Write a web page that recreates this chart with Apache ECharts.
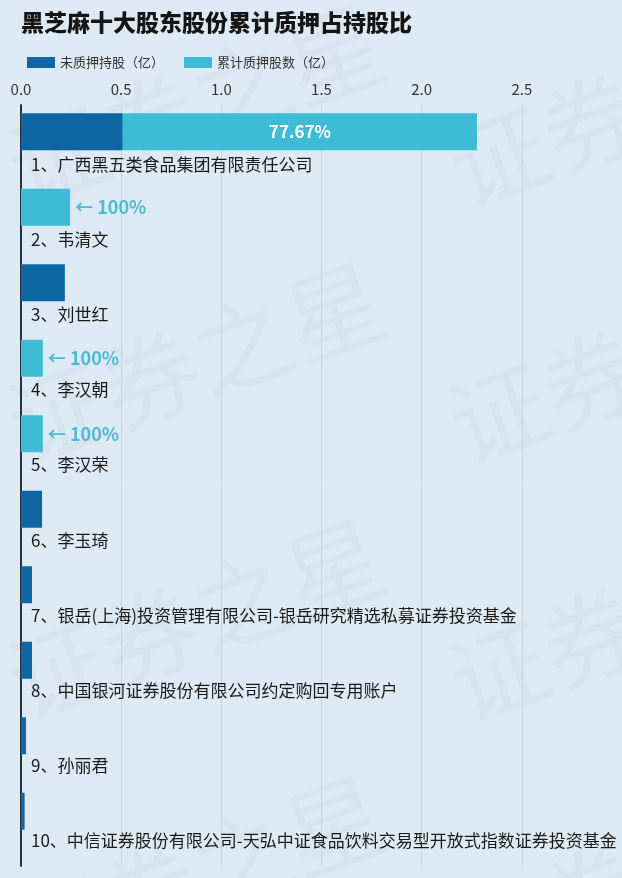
<!DOCTYPE html>
<html>
<head>
<meta charset="utf-8">
<script src="https://cdn.jsdelivr.net/npm/echarts@6/dist/echarts.min.js"></script>
<style>
html,body{margin:0;padding:0;background:#deeaf3;}
#chart{width:622px;height:878px;}
</style>
</head>
<body>
<div id="chart"></div>
<script>
var titleText = '黑芝麻十大股东股份累计质押占持股比';
var legendNames = ['未质押持股（亿）', '累计质押股数（亿）'];
var categories = [
  '1、广西黑五类食品集团有限责任公司',
  '2、韦清文',
  '3、刘世红',
  '4、李汉朝',
  '5、李汉荣',
  '6、李玉琦',
  '7、银岳(上海)投资管理有限公司-银岳研究精选私募证券投资基金',
  '8、中国银河证券股份有限公司约定购回专用账户',
  '9、孙丽君',
  '10、中信证券股份有限公司-天弘中证食品饮料交易型开放式指数证券投资基金'
];
var unpledged = [0.508, 0, 0.219, 0, 0, 0.105, 0.055, 0.055, 0.025, 0.018];
var pledged   = [1.768, 0.245, 0, 0.109, 0.109, 0, 0, 0, 0, 0];
var pledgeRatio = [77.67, 100, 0, 100, 100, 0, 0, 0, 0, 0];
var xTicks = [0, 0.5, 1.0, 1.5, 2.0, 2.5];

var FONT = '"Noto Sans CJK SC", "Noto Sans", sans-serif';
var DARK = '#0e67a3';
var LIGHT = '#3ebcd5';

var pledgedData = pledged.map(function (v, i) {
  var r = pledgeRatio[i];
  var item = { value: v };
  if (r >= 100) {
    item.label = {
      show: true, position: 'right', distance: 5,
      formatter: '← ' + r + '%',
      color: '#4dbad5', fontSize: 18, fontWeight: 'bold', fontFamily: FONT
    };
  } else if (r > 0) {
    item.label = {
      show: true, position: 'inside',
      formatter: r.toFixed(2) + '%',
      color: '#ffffff', fontSize: 17, fontWeight: 'bold', fontFamily: FONT
    };
  } else {
    item.label = { show: false };
  }
  return item;
});

var wm = [];
var wmCenters = [[196, 105], [196, 362], [196, 619], [196, 876], [637, 106], [637, 363], [637, 621], [637, 878]];
wmCenters.forEach(function (c) {
  wm.push({
    type: 'text', x: c[0], y: c[1], rotation: 20 * Math.PI / 180, z: -10, silent: true,
    style: { text: '证券之星', fontSize: 98, fontFamily: FONT, fill: 'rgba(120,140,160,0.065)', textAlign: 'center', textVerticalAlign: 'middle' }
  });
});

var chart = echarts.init(document.getElementById('chart'), null, { renderer: 'canvas' });
chart.setOption({
  backgroundColor: '#deeaf3',
  animation: false,
  textStyle: { fontFamily: FONT },
  graphic: wm,
  title: {
    text: titleText, left: 16, top: 6,
    textStyle: { fontSize: 23, fontWeight: 900, color: '#151515', fontFamily: FONT }
  },
  legend: {
    data: legendNames, left: 22, top: 51, itemWidth: 28, itemHeight: 11, itemGap: 20,
    icon: 'rect',
    textStyle: { fontSize: 13, color: '#333', fontFamily: FONT }
  },
  grid: [
    { left: 21, right: -2, top: 94, height: 755 },
    { left: 21, right: -2, top: 105, bottom: 12 },
    { left: 21, right: -2, top: 127, height: 755 }
  ],
  xAxis: [
    { gridIndex: 0, type: 'value', min: 0, max: 3, interval: 0.5, show: false },
    {
      gridIndex: 1, type: 'value', position: 'top', min: 0, max: 3, interval: 0.5,
      axisLine: { show: false }, axisTick: { show: false },
      splitLine: { show: true, lineStyle: { color: '#c6d3dd', width: 1 } },
      axisLabel: {
        margin: 8, color: '#333', fontSize: 15, fontFamily: FONT, showMaxLabel: false,
        formatter: function (v) { return xTicks.indexOf(v) >= 0 ? v.toFixed(1) : ''; }
      }
    },
    { gridIndex: 2, type: 'value', min: 0, max: 3, interval: 0.5, show: false }
  ],
  yAxis: [
    {
      gridIndex: 0, type: 'category', data: categories, inverse: true,
      axisLine: { show: false }, axisTick: { show: false }, splitLine: { show: false },
      axisLabel: { show: false }
    },
    {
      gridIndex: 1, type: 'category', data: categories, inverse: true,
      axisLine: { show: true, lineStyle: { color: '#26323c', width: 2 } },
      axisTick: { show: false }, axisLabel: { show: false }, splitLine: { show: false }
    },
    {
      gridIndex: 2, type: 'category', data: categories, inverse: true,
      axisLine: { show: false }, axisTick: { show: false }, splitLine: { show: false },
      axisLabel: { inside: true, margin: 10, color: '#1a1a1a', fontSize: 17, fontFamily: FONT }
    }
  ],
  series: [
    {
      name: legendNames[0], type: 'bar', stack: 'total', xAxisIndex: 0, yAxisIndex: 0,
      barWidth: 37, itemStyle: { color: DARK }, data: unpledged, z: 3
    },
    {
      name: legendNames[1], type: 'bar', stack: 'total', xAxisIndex: 0, yAxisIndex: 0,
      barWidth: 37, itemStyle: { color: LIGHT }, data: pledgedData, z: 3
    }
  ]
});
</script>
</body>
</html>
